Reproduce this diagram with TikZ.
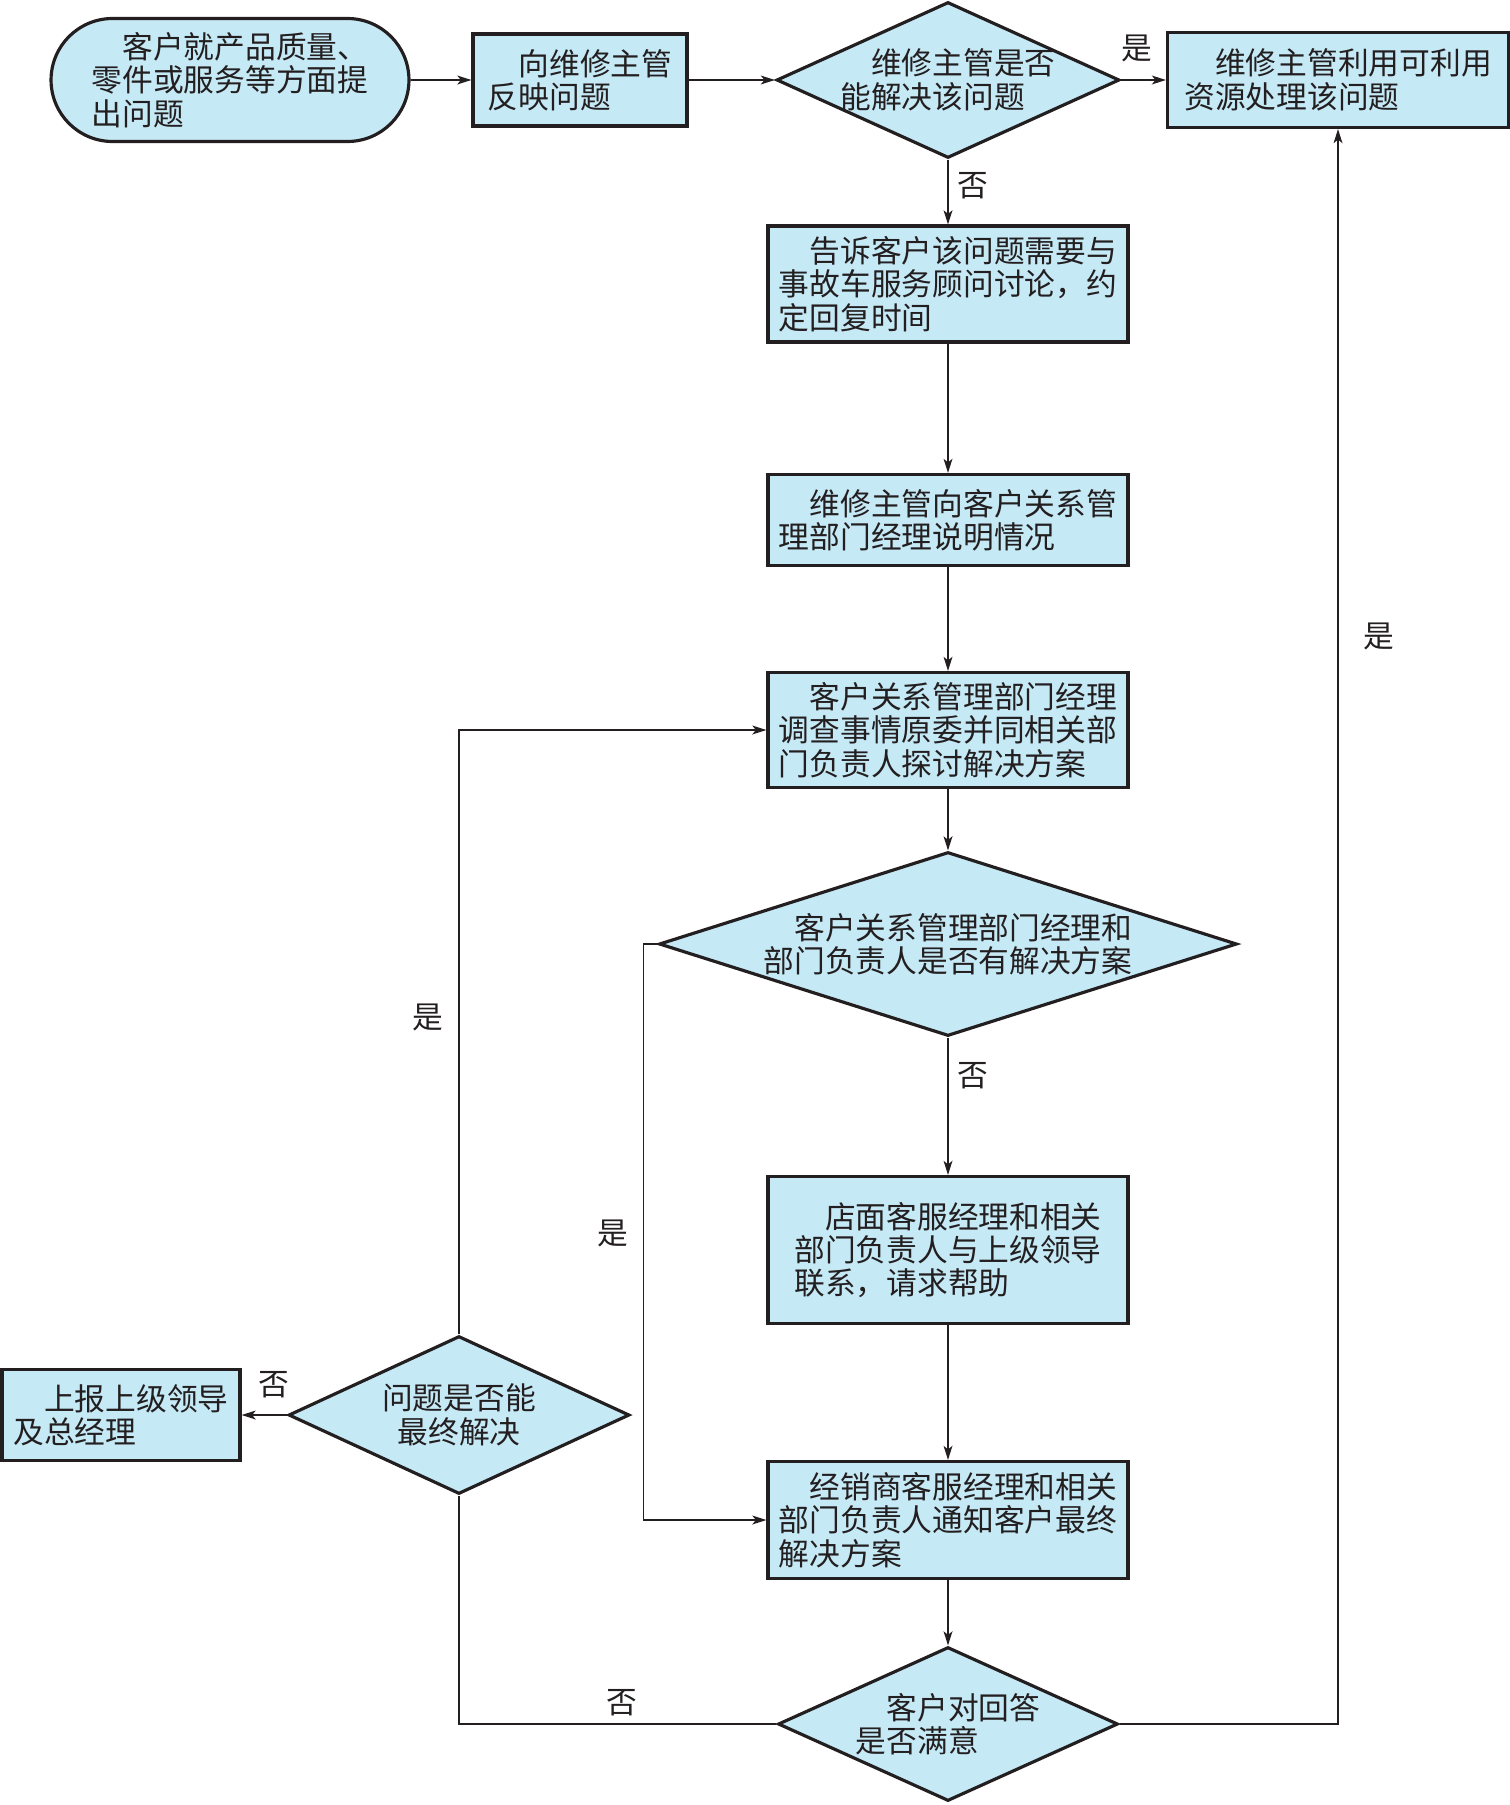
\documentclass[tikz,border=0pt]{standalone}
\usepackage{fontspec}
\setmainfont{Noto Sans CJK SC}
\usetikzlibrary{shapes.geometric, shapes.misc, arrows.meta}
\definecolor{boxfill}{HTML}{C6E9F6}
\definecolor{inkline}{HTML}{231F20}

\begin{document}
\begin{tikzpicture}[x=0.02cm, y=-0.02cm,
	every node/.style={font=\fontsize{17.5pt}{19pt}\selectfont, text=inkline},
	procbox/.style={shape=rectangle, draw=inkline, fill=boxfill, line width=1.8pt, align=left, inner sep=0pt},
	startbox/.style={shape=rounded rectangle, draw=inkline, fill=boxfill, line width=1.8pt, align=left, inner sep=0pt},
	decision/.style={shape=diamond, draw=inkline, fill=boxfill, line width=1.8pt, inner sep=0pt},
	dtext/.style={align=left, inner sep=0pt},
	yesno/.style={inner sep=0pt},
	wire/.style={draw=inkline, line width=1pt},
	arrow/.style={wire, -{Stealth[length=8pt, width=5pt, inset=2pt]}}]
	\useasboundingbox (0, 0) rectangle (1510, 1805);
	% Boxes and decisions:
	\node[startbox, minimum width=7.16cm, minimum height=2.46cm] (start) at (230, 80) {\hspace*{1em}客户就产品质量、\\零件或服务等方面提\\出问题};
	\node[procbox, minimum width=4.28cm, minimum height=1.84cm] (b2) at (580, 80) {\hspace*{1em}向维修主管\\反映问题};
	\node[decision, minimum width=6.86cm, minimum height=3.12cm] (d1) at (948, 80) {};
	\node[dtext] (d1txt) at (d1) {\hspace*{1em}维修主管是否\\能解决该问题};
	\node[procbox, minimum width=6.82cm, minimum height=1.90cm] (b4) at (1338, 80) {\hspace*{1em}维修主管利用可利用\\资源处理该问题};
	\node[procbox, minimum width=7.2cm, minimum height=2.32cm] (b5) at (948, 284) {\hspace*{1em}告诉客户该问题需要与\\事故车服务顾问讨论，约\\定回复时间};
	\node[procbox, minimum width=7.2cm, minimum height=1.82cm] (b6) at (948, 520) {\hspace*{1em}维修主管向客户关系管\\理部门经理说明情况};
	\node[procbox, minimum width=7.2cm, minimum height=2.30cm] (b7) at (948, 730) {\hspace*{1em}客户关系管理部门经理\\调查事情原委并同相关部\\门负责人探讨解决方案};
	\node[decision, minimum width=11.56cm, minimum height=3.68cm] (d2) at (948, 944) {};
	\node[dtext] (d2txt) at (d2) {\hspace*{1em}客户关系管理部门经理和\\部门负责人是否有解决方案};
	\node[procbox, minimum width=7.2cm, minimum height=2.94cm] (b9) at (948, 1250) {\hspace*{1em}店面客服经理和相关\\部门负责人与上级领导\\联系，请求帮助};
	\node[procbox, minimum width=7.2cm, minimum height=2.34cm] (b10) at (948, 1520) {\hspace*{1em}经销商客服经理和相关\\部门负责人通知客户最终\\解决方案};
	\node[decision, minimum width=6.8cm, minimum height=3.08cm] (d3) at (948, 1724) {};
	\node[dtext] (d3txt) at (d3) {\hspace*{1em}客户对回答\\是否满意};
	\node[decision, minimum width=6.82cm, minimum height=3.16cm] (d4) at (459, 1415) {};
	\node[align=center, inner sep=0pt] (d4txt) at (d4) {问题是否能\\最终解决};
	\node[procbox, minimum width=4.76cm, minimum height=1.82cm] (b13) at (121, 1415) {\hspace*{1em}上报上级领导\\及总经理};
	% Connectors:
	\draw[arrow] (start) -- (b2);
	\draw[arrow] (b2) -- (d1);
	\draw[arrow] (d1) -- (b4);
	\draw[arrow] (d1) -- (b5);
	\draw[arrow] (b5) -- (b6);
	\draw[arrow] (b6) -- (b7);
	\draw[arrow] (b7) -- (d2);
	\draw[arrow] (d2) -- (b9);
	\draw[arrow] (b9) -- (b10);
	\draw[arrow] (b10) -- (d3);
	\draw[arrow] (d2.west) -- ++(-14, 0) |- (b10.west);
	\draw[arrow] (d3.east) -| (b4.south);
	\draw[wire] (d3.west) -| (d4.south);
	\draw[arrow] (d4.north) |- (b7.west);
	\draw[arrow] (d4.west) -- (b13.east);
	% Labels:
	\node[yesno] (yes1) at (1137, 48) {是};
	\node[yesno] (no1) at (973, 186) {否};
	\node[yesno] (no2) at (973, 1076) {否};
	\node[yesno] (yes2) at (613, 1233) {是};
	\node[yesno] (yes3) at (1379, 636) {是};
	\node[yesno] (no3) at (622, 1703) {否};
	\node[yesno] (yes4) at (428, 1017) {是};
	\node[yesno] (no4) at (274, 1385) {否};
\end{tikzpicture}
\end{document}
